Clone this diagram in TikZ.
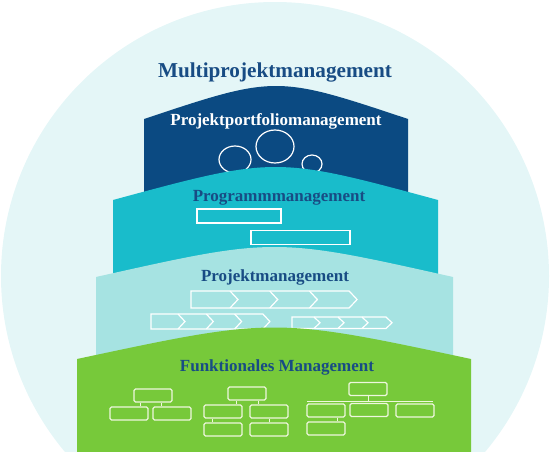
\documentclass[tikz,border=0pt]{standalone}
\usepackage{fontspec}
\setmainfont{Liberation Serif}
\definecolor{halo}{HTML}{E4F6F7}
\definecolor{navy}{HTML}{0B4A82}
\definecolor{teal}{HTML}{19BCCB}
\definecolor{paleteal}{HTML}{A6E3E2}
\definecolor{leaf}{HTML}{77C93A}
\definecolor{inkblue}{HTML}{184C84}
\definecolor{boxline}{HTML}{EEF7DD}

% row of four chevrons: left, top, height, first tip, spacing, depth
\newcommand{\chevrons}[6]{%
  \pgfmathsetmacro{\lasttip}{#4+3*#5}
  \draw[outline] (#1,#2) -- (\lasttip-#6,#2) -- (\lasttip,#2+#3/2)
     -- (\lasttip-#6,#2+#3) -- (#1,#2+#3) -- cycle;
  \foreach \i in {0,1,2} {
    \pgfmathsetmacro{\tip}{#4+\i*#5}
    \draw[outline] (\tip-#6,#2) -- (\tip,#2+#3/2) -- (\tip-#6,#2+#3);
  }
}

\begin{document}
\begin{tikzpicture}[x=1pt,y=-1pt,
    outline/.style={draw=white,line width=1.2pt,line join=miter},
    orgbox/.style={draw=boxline,line width=1.2pt,rounded corners=1.5pt,
      minimum width=38pt,minimum height=13pt,inner sep=0pt},
    orgline/.style={draw=boxline,line width=1pt},
    tier/.style={font=\bfseries\fontsize{17}{19}\selectfont,text=inkblue}]
  \useasboundingbox (0,0) rectangle (551,452);
  \clip (0,0) rectangle (551,452);

  \fill[halo] (275,276) circle[radius=274];
  \node[font=\bfseries\fontsize{21.2}{25}\selectfont,text=inkblue] (mpm) at (275,72) {Multiprojektmanagement};

  %------ portfolio
  \fill[navy] (144,119) .. controls (276,75) .. (408,119) -- (408,205) -- (144,205) -- cycle;
  \node[tier,text=white] (ppm) at (276,121) {Projektportfoliomanagement};
  \draw[outline] (235,159.5) ellipse[x radius=16,y radius=13.5];
  \draw[outline] (275,146.5) ellipse[x radius=19,y radius=16.5];
  \draw[outline] (312,164) ellipse[x radius=10,y radius=9];

  %------ programme
  \fill[teal] (113,200) .. controls (275.5,156) .. (438,200) -- (438,285) -- (113,285) -- cycle;
  \node[tier] (pgm) at (279,198) {Programmmanagement};
  \draw[outline] (197,209) rectangle (281,223);
  \draw[outline] (251,230.5) rectangle (350,244.5);

  %------ project
  \fill[paleteal] (96,277) .. controls (274.5,237) .. (453,277) -- (453,365) -- (96,365) -- cycle;
  \node[tier] (pm) at (275,277) {Projektmanagement};
  \chevrons{191}{291}{17}{238}{39.7}{8}
  \chevrons{151}{314}{15}{185}{28.3}{7}
  \chevrons{292}{317}{11.5}{320}{24}{6}

  %------ functional
  \fill[leaf] (77,359) .. controls (274,317) .. (471,359) -- (471,452) -- (77,452) -- cycle;
  \node[tier] (fm) at (277,367) {Funktionales Management};

  % chart a
  \node[orgbox] (a0) at (153,395.5) {};
  \node[orgbox] (a1) at (129,413.5) {};
  \node[orgbox] (a2) at (172,413.5) {};
  \draw[orgline] ([xshift=-13pt]a0.south) -- ([xshift=-13pt]a0.south |- a1.north);
  \draw[orgline] ([xshift=8pt]a0.south) -- ([xshift=8pt]a0.south |- a2.north);

  % chart b
  \node[orgbox] (b0) at (247,393.5) {};
  \node[orgbox] (b1) at (223,411.5) {};
  \node[orgbox] (b2) at (269,411.5) {};
  \node[orgbox] (b3) at (223,429.5) {};
  \node[orgbox] (b4) at (269,429.5) {};
  \draw[orgline] ([xshift=-11pt]b0.south) -- ([xshift=-11pt]b0.south |- b1.north);
  \draw[orgline] ([xshift=11pt]b0.south) -- ([xshift=11pt]b0.south |- b2.north);
  \draw[orgline] ([xshift=-11pt]b1.south) -- ([xshift=-11pt]b1.south |- b3.north);
  \draw[orgline] (b2.south) -- (b4.north);

  % chart c
  \node[orgbox] (c0) at (368,389) {};
  \node[orgbox] (c1) at (326,410.5) {};
  \node[orgbox] (c2) at (369,410) {};
  \node[orgbox] (c3) at (415,410.5) {};
  \node[orgbox] (c4) at (326,428.5) {};
  \coordinate (cl) at (307,401);
  \coordinate (cr) at (433,401);
  \draw[orgline] (cl) -- (cr);
  \draw[orgline] (c0.south) -- (c0.south |- cl);
  \draw[orgline] ([xshift=11pt]c1.south) -- ([xshift=11pt]c1.south |- c4.north);
\end{tikzpicture}
\end{document}
